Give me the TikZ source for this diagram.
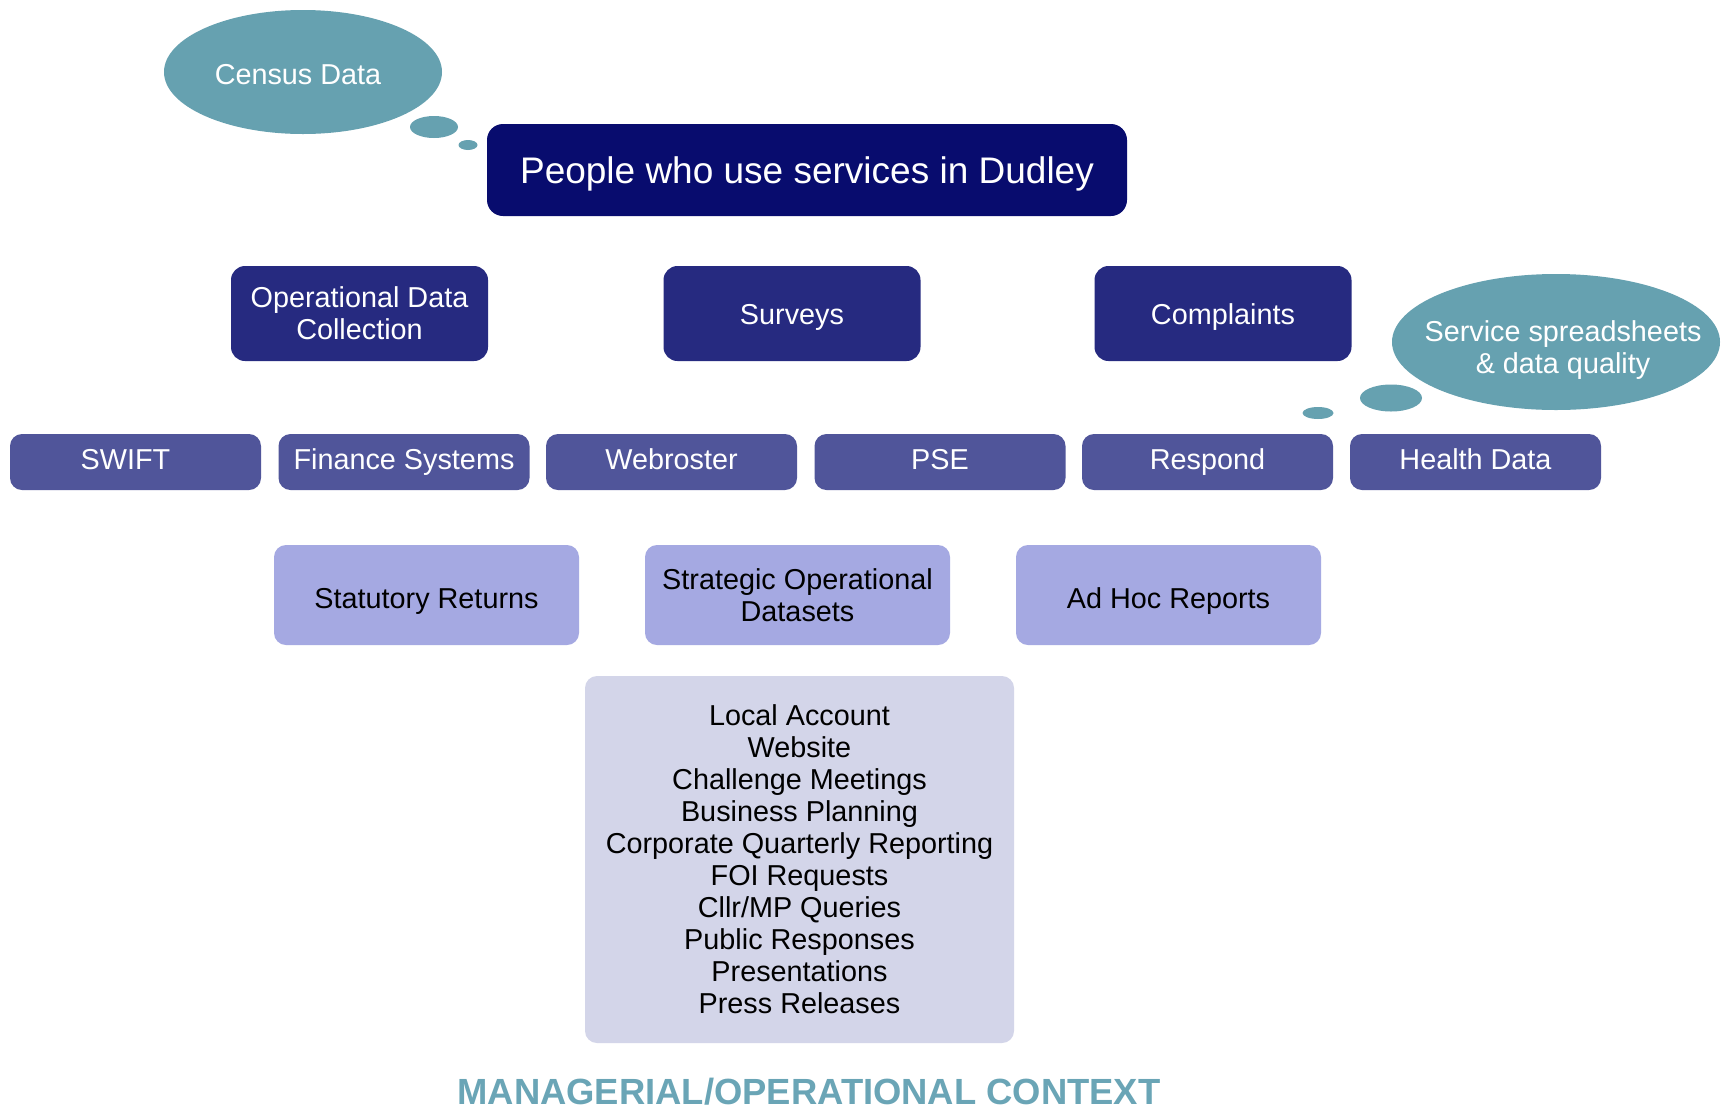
\documentclass[tikz,border=0pt]{standalone}
\usepackage{fontspec}
\setmainfont{Liberation Sans}
\usetikzlibrary{shapes.geometric}
\definecolor{navyA}{RGB}{8,12,110}
\definecolor{navyB}{RGB}{38,42,128}
\definecolor{midC}{RGB}{80,85,154}
\definecolor{lavD}{RGB}{165,169,226}
\definecolor{paleE}{RGB}{211,213,233}
\definecolor{tealF}{RGB}{102,161,176}
\definecolor{tealT}{RGB}{106,165,182}
\tikzset{
  basebox/.style={rectangle, inner sep=0pt, align=center, font=\fontsize{14.4}{16}\selectfont},
  topbox/.style={basebox, fill=navyA, text=white, rounded corners=8pt, minimum width=320pt, minimum height=46pt, text height=15.6pt, text depth=1.7pt, font=\fontsize{18.5}{22}\selectfont},
  srcbox/.style={basebox, fill=navyB, text=white, rounded corners=7pt, minimum width=128.5pt, minimum height=47.5pt},
  srcone/.style={srcbox, text height=12.1pt, text depth=1.4pt},
  sysbox/.style={basebox, fill=midC, text=white, rounded corners=6pt, minimum width=125.5pt, minimum height=28pt, text height=10.4pt, text depth=3pt},
  outbox/.style={basebox, fill=lavD, text=black, rounded corners=6pt, minimum width=152.5pt, minimum height=50pt},
  outone/.style={outbox, text height=13.2pt, text depth=0.2pt},
  usebox/.style={basebox, fill=paleE, text=black, rounded corners=6pt, minimum width=214.5pt, minimum height=183.5pt},
  cloud/.style={ellipse, fill=tealF, inner sep=0pt},
  cloudtext/.style={text=white, align=center, inner sep=0pt, font=\fontsize{14.4}{16}\selectfont},
  bubble/.style={ellipse, fill=tealF, inner sep=0pt}
}
\begin{document}
\begin{tikzpicture}[x=0.5pt,y=-0.5pt]
\useasboundingbox (0,0) rectangle (1730,1109);
\fill[white] (0,0) rectangle (1730,1109);
% thought clouds
\node[cloud, minimum width=139pt, minimum height=62pt] (census) at (303,72) {};
\node[cloudtext] (censustxt) at (298,75) {Census Data};
\node[bubble, minimum width=24pt, minimum height=11pt] (cb1) at (434,127) {};
\node[bubble, minimum width=9.5pt, minimum height=5pt] (cb2) at (468,145) {};
\node[cloud, minimum width=164pt, minimum height=68pt] (service) at (1556,342) {};
\node[cloudtext] (servicetxt) at (1563,350) {Service spreadsheets\\ \& data quality};
\node[bubble, minimum width=31pt, minimum height=13.5pt] (sb1) at (1391,398) {};
\node[bubble, minimum width=15.5pt, minimum height=6pt] (sb2) at (1318,413) {};
% top
\node[topbox] (people) at (807,170) {People who use services in Dudley};
% row 2
\node[srcbox] (odc) at (359.5,313.5) {Operational Data\\Collection};
\node[srcone] (surveys) at (792,313.5) {Surveys};
\node[srcone] (complaints) at (1223,313.5) {Complaints};
% row 3
\node[sysbox] (swift) at (135.5,462) {SWIFT\hspace*{10pt}};
\node[sysbox] (finance) at (404,462) {Finance Systems};
\node[sysbox] (webroster) at (671.5,462) {Webroster};
\node[sysbox] (pse) at (940,462) {PSE};
\node[sysbox] (respond) at (1207.5,462) {Respond};
\node[sysbox] (health) at (1475.5,462) {Health Data};
% row 4
\node[outone] (statutory) at (426.5,595) {Statutory Returns};
\node[outbox] (strategic) at (797.5,595) {Strategic Operational\\Datasets};
\node[outone] (adhoc) at (1168.5,595) {Ad Hoc Reports};
% uses
\node[usebox] (uses) at (799.5,859.5) {Local Account\\Website\\Challenge Meetings\\Business Planning\\Corporate Quarterly Reporting\\FOI Requests\\Cllr/MP Queries\\Public Responses\\Presentations\\Press Releases};
% bottom title
\node[text=tealT, anchor=base, inner sep=0pt, font=\bfseries\fontsize{18.2}{22}\selectfont] (context) at (809,1104) {MANAGERIAL/OPERATIONAL CONTEXT};
\end{tikzpicture}
\end{document}
